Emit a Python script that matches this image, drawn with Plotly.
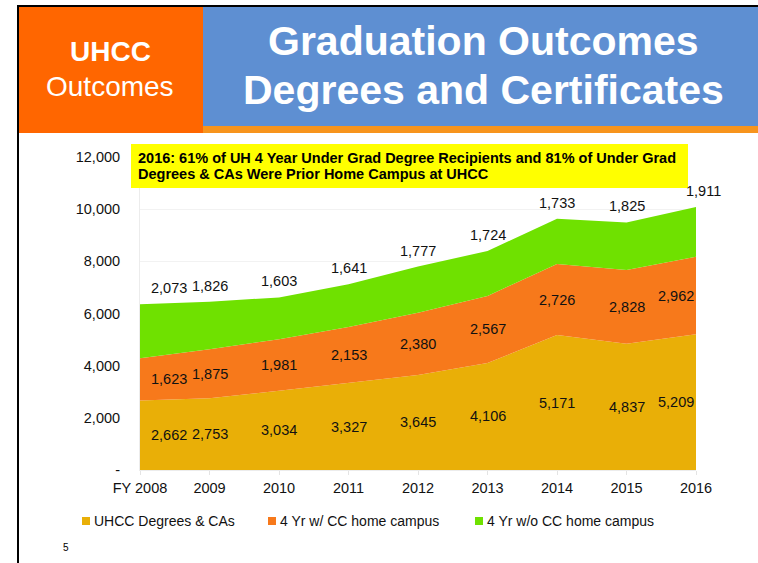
import plotly.graph_objects as go

# data
years = ["FY 2008", "2009", "2010", "2011", "2012", "2013", "2014", "2015", "2016"]
uhcc_degrees = [2662, 2753, 3034, 3327, 3645, 4106, 5171, 4837, 5209]
four_yr_with_cc = [1623, 1875, 1981, 2153, 2380, 2567, 2726, 2828, 2962]
four_yr_without_cc = [2073, 1826, 1603, 1641, 1777, 1724, 1733, 1825, 1911]

series_names = ["UHCC Degrees & CAs", "4 Yr w/ CC home campus", "4 Yr w/o CC home campus"]
series_colors = ["#E9AF07", "#F7791B", "#6FE100"]

y_ticks = [0, 2000, 4000, 6000, 8000, 10000, 12000]
y_ticktext = ["-", "2,000", "4,000", "6,000", "8,000", "10,000", "12,000"]

header_left = ["UHCC", "Outcomes"]
header_title = ["Graduation Outcomes", "Degrees and Certificates"]
callout = [
    "2016: 61% of UH 4 Year Under Grad Degree Recipients and 81% of Under Grad",
    "Degrees & CAs Were Prior Home Campus at UHCC",
]

FONT = "Liberation Sans, Arial, sans-serif"
W, H = 758, 563
PL, PR, PT, PB = 140, 696, 157, 470


def px(x):
    return (x - PL) / (PR - PL)


def py(y):
    return (PB - y) / (PB - PT)


def rect(x0, y0, x1, y1, color, layer="above"):
    return dict(type="rect", xref="paper", yref="paper",
                x0=px(x0), x1=px(x1), y0=py(y1), y1=py(y0),
                fillcolor=color, line=dict(width=0), layer=layer)


def text_at(x, y, text, size, color="#111111", xanchor="center"):
    return dict(xref="paper", yref="paper", x=px(x), y=py(y), text=text,
                showarrow=False, xanchor=xanchor, yanchor="middle",
                font=dict(family=FONT, size=size, color=color))


fig = go.Figure()

all_series = [uhcc_degrees, four_yr_with_cc, four_yr_without_cc]
xs = list(range(len(years)))
for name, vals, color in zip(series_names, all_series, series_colors):
    fig.add_scatter(x=xs, y=vals, name=name, mode="lines",
                    stackgroup="one", line=dict(width=0, color=color),
                    fillcolor=color, showlegend=False, hoverinfo="skip")

# data labels
annotations = []
n = len(years)
base = [0] * n
for s, vals in enumerate(all_series):
    for i, v in enumerate(vals):
        if s < 2:
            yv = base[i] + v / 2
            yanchor, yshift = "middle", 0
        else:
            yv = base[i] + v
            yanchor, yshift = "bottom", 6
        xanchor, xshift = "center", 0
        if i == 0:
            xanchor, xshift = "left", 9
        elif i == n - 1:
            if s < 2:
                xanchor, xshift = "right", 0
            else:
                xshift = 7
        annotations.append(dict(x=xs[i], y=yv, xref="x", yref="y", text=f"{v:,}",
                                showarrow=False, xanchor=xanchor, yanchor=yanchor,
                                xshift=xshift, yshift=yshift,
                                font=dict(family=FONT, size=14.5, color="#111111")))
    base = [b + v for b, v in zip(base, vals)]

shapes = [
    rect(17, 5, W, 7, "#000000"),
    rect(17, 5, 19, H, "#000000"),
    rect(19, 7, 203, 133, "#FF6600"),
    rect(203, 7, W, 126, "#5E8FD2"),
    rect(203, 126, W, 133, "#F7941D"),
    rect(131, 144, 688, 188, "#FFFF00"),
]

# header texts
annotations.append(text_at(110, 52, f"<b>{header_left[0]}</b>", 28, "white"))
annotations.append(text_at(110, 86, header_left[1], 28, "white"))
for line, yc in zip(header_title, [41, 90]):
    annotations.append(text_at(483, yc, f"<b>{line}</b>", 41, "white"))

# callout box text
for line, yc in zip(callout, [158, 174]):
    annotations.append(text_at(136, yc, f"<b>{line}</b>", 14.5, "#000000", "left"))

# legend
legend_x = [82, 268, 475]
for name, color, lx in zip(series_names, series_colors, legend_x):
    shapes.append(rect(lx, 517, lx + 8, 525, color))
    annotations.append(text_at(lx + 10, 521, name, 14, "#111111", "left"))

# slide number
annotations.append(text_at(66, 547, "5", 10, "#000000"))

fig.update_layout(
    width=W, height=H,
    margin=dict(l=PL, r=W - PR, t=PT, b=H - PB, pad=0),
    paper_bgcolor="white", plot_bgcolor="white",
    showlegend=False,
    shapes=shapes, annotations=annotations,
    font=dict(family=FONT, size=14, color="#111111"),
    xaxis=dict(range=[0, n - 1], tickvals=xs, ticktext=years, showgrid=False,
               zeroline=False, showline=True, linecolor="#ececec", ticks="outside",
               ticklen=4, tickcolor="#e4e4e4", ticklabelstandoff=1,
               tickfont=dict(size=14.5)),
    yaxis=dict(range=[0, 12000], tickvals=y_ticks, ticktext=y_ticktext,
               showgrid=True, gridcolor="#f2f2f2", zeroline=False,
               showline=True, linecolor="#ececec", ticks="",
               ticklabelstandoff=16, tickfont=dict(size=14.5)),
)

fig.write_html("out.html", config={"displayModeBar": False},
               post_script="document.body.style.margin='0px';")
